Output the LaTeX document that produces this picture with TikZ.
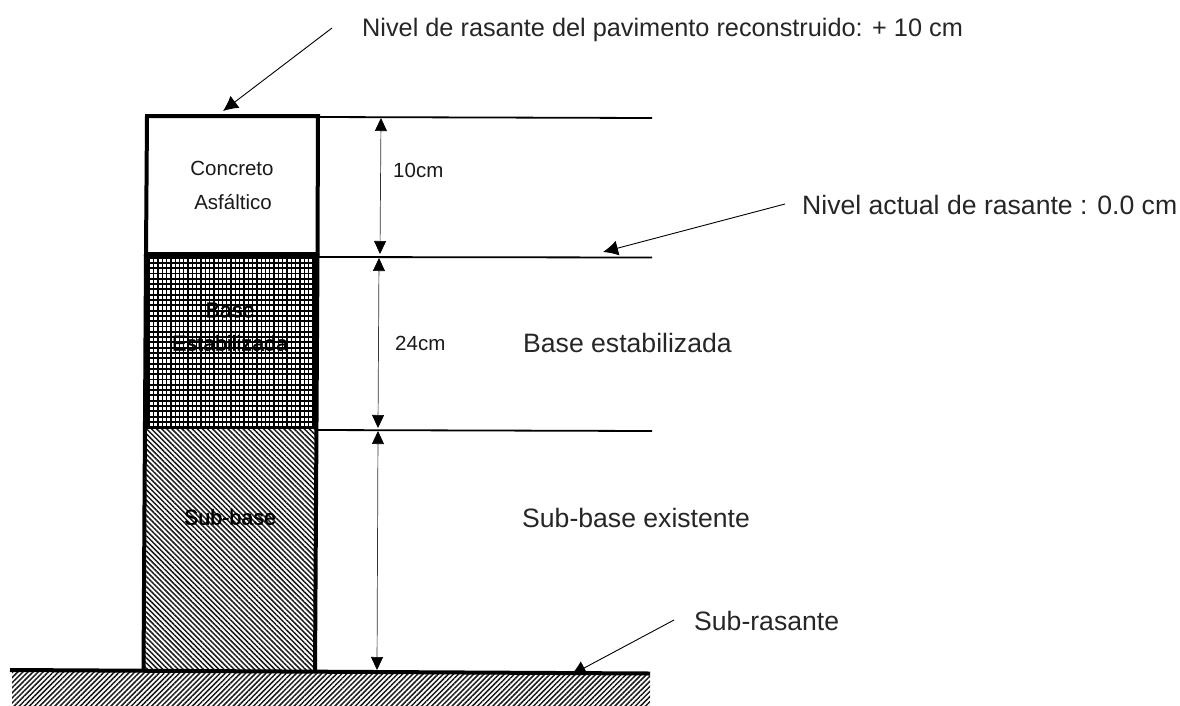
\documentclass[tikz,border=0pt]{standalone}
\usepackage{fontspec}
\setmainfont{Liberation Sans}
\newfontfamily\heavyfont[FakeBold=1.5]{Liberation Sans}
\usetikzlibrary{arrows.meta,patterns.meta}
\tikzset{
  bigtext/.style={font=\fontsize{26.6}{29}\selectfont,anchor=west,inner sep=0pt,text=black!85},
  toptext/.style={font=\fontsize{25.3}{28}\selectfont,anchor=west,inner sep=0pt,text=black!85},
  smalltext/.style={font=\fontsize{20.5}{23}\selectfont,inner sep=0pt,text=black!90},
  overtext/.style={font=\heavyfont\fontsize{21.5}{24}\selectfont,inner sep=0pt,text=black},
  layer/.style={draw=black,line width=4pt,line join=miter},
  level/.style={line width=1.8pt},
  dim/.style={line width=0.7pt,black!80,{Triangle[length=13pt,width=12pt,black]}-{Triangle[length=13pt,width=12pt,black]}},
  pointer/.style={line width=0.9pt,-{Latex[length=15pt,width=15pt]}},
  hatch/.style={pattern={Lines[angle=-45,distance=3.6pt,line width=1.5pt]},pattern color=black!90},
  groundhatch/.style={pattern={Lines[angle=45,distance=3.6pt,line width=1.5pt]},pattern color=black!90},
}
\begin{document}
\begin{tikzpicture}[x=1pt,y=-1pt]
\useasboundingbox (0,0) rectangle (1180,705);
% ground
\fill[groundhatch] (12,672) rectangle (650,705);
% sub-base
\fill[hatch] (145,428) -- (316,428) -- (315,672) -- (143,672) -- cycle;
% base: mesh
\fill[black] (146,254) rectangle (317,428);
\foreach \i in {0,...,31} \foreach \j in {0,...,37}
  \fill[white] ({150+\j*4.3},{258.5+\i*5.3}) rectangle ++(3,3.4);
% layer outlines
\draw[layer] (147,116) -- (318,116) -- (317.5,254) -- (146,254) -- cycle;
\draw[layer] (146,254) -- (143.5,672) (317.5,254) -- (315,672);
\draw[line width=2pt] (145,428) -- (317,428);
% named ends
\coordinate (t1) at (317,117); \coordinate (t2) at (652,118);
\coordinate (m1) at (317,257); \coordinate (m2) at (652,257.5);
\coordinate (b1) at (317,430); \coordinate (b2) at (652,431);
\coordinate (g1) at (10,670); \coordinate (g2) at (650,673.5);
\draw[level] (t1) -- (t2);
\draw[level] (m1) -- (m2);
\draw[level] (b1) -- (b2);
\draw[line width=4pt] (g1) -- (g2);
% dimensions
\coordinate (d1a) at (381,118); \coordinate (d1b) at (380,254);
\coordinate (d2a) at (379,258); \coordinate (d2b) at (378,428);
\coordinate (d3a) at (378,431); \coordinate (d3b) at (377,670);
\draw[dim] (d1a) -- (d1b);
\draw[dim] (d2a) -- (d2b);
\draw[dim] (d3a) -- (d3b);
% pointers
\coordinate (p1a) at (332,28); \coordinate (p1b) at (223,111);
\coordinate (p2a) at (785,204); \coordinate (p2b) at (603,252);
\coordinate (p3a) at (674,620); \coordinate (p3b) at (571,675);
\draw[pointer] (p1a) -- (p1b);
\draw[pointer] (p2a) -- (p2b);
\draw[pointer] (p3a) -- (p3b);
% text
\node[toptext] (top) at (362,30) {Nivel de rasante del pavimento reconstruido: + 10 cm};
\node[bigtext] (act) at (802,205) {Nivel actual de rasante : 0.0 cm};
\node[bigtext] (be) at (523,343) {Base estabilizada};
\node[bigtext] (sbe) at (522,518) {Sub-base existente};
\node[bigtext] (sr) at (694,621) {Sub-rasante};
\node[smalltext] (c1) at (232,168) {Concreto};
\node[smalltext] (c2) at (233,202) {Asfáltico};
\node[overtext] (b1t) at (230,310) {Base};
\node[overtext] (b2t) at (230,343) {Estabilizada};
\node[overtext] (sb) at (230,517) {Sub-base};
\node[smalltext,anchor=west] (d10) at (393,170) {10cm};
\node[smalltext,anchor=west] (d24) at (395,343) {24cm};
\end{tikzpicture}
\end{document}
